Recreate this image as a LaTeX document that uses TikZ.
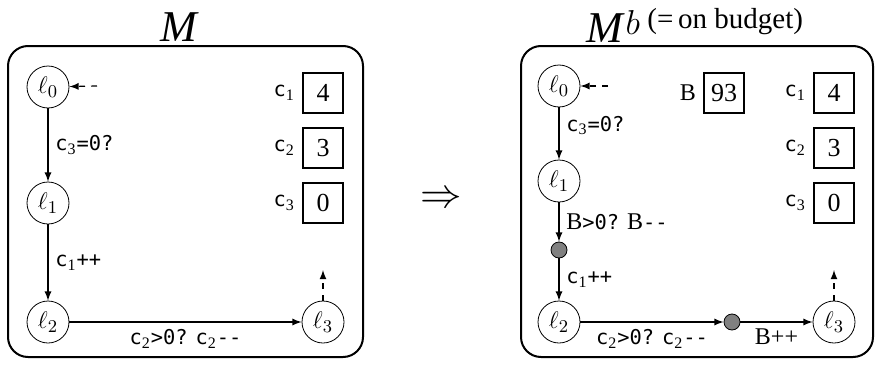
\documentclass[tikz,border=0pt]{standalone}
\usepackage{fontspec}
\setmainfont{Liberation Serif}
\setmonofont[Scale=0.85]{DejaVu Sans Mono}
\usepackage{amsmath}

\newcommand{\cname}[1]{\texttt{c}\textsubscript{#1}}

\begin{document}
\begin{tikzpicture}[x=0.5pt, y=-0.5pt,
                loc/.style={circle, draw, minimum size=21pt, inner sep=0pt, font=\fontsize{12.5}{14}\selectfont},
                inter/.style={circle, draw, fill=gray, minimum size=8pt, inner sep=0pt},
                counter/.style={rectangle, draw, line width=1pt, minimum size=20pt, inner sep=0pt, font=\fontsize{13}{15}\selectfont},
                panel/.style={draw, line width=1pt, rounded corners=10pt},
                guard/.style={font=\fontsize{12}{14}\selectfont},
                title/.style={font=\fontsize{22}{24}\selectfont},
                paths/.style={semithick, -latex},
                entry/.style={semithick, dashed, -latex}
            ]
                \useasboundingbox (0,0) rectangle (883,364);

                % Panel M
                \draw[panel] (8,46) rectangle (363,357);
                \node[title] (tl) at (180,27) {\textit{M}};

                \node[loc] (l0) at (48,87) {$\ell_0$};
                \node[loc] (l1) at (48,203) {$\ell_1$};
                \node[loc] (l2) at (48,322) {$\ell_2$};
                \node[loc] (l3) at (323,322) {$\ell_3$};
                \coordinate (i0) at (97,86);
                \coordinate (f3) at (323,270);

                \node[counter, label={[guard]left:\cname{1}}] (c1) at (323,93) {4};
                \node[counter, label={[guard]left:\cname{2}}] (c2) at (323,148) {3};
                \node[counter, label={[guard]left:\cname{3}}] (c3) at (323,203) {0};

                % Paths: Transitions of M
                \draw[entry] (i0) -- (l0);
                \draw[paths] (l0) -- node[guard, right] {\cname{3}\texttt{=0?}} (l1);
                \draw[paths] (l1) -- node[guard, right] {\cname{1}\texttt{++}} (l2);
                \draw[paths] (l2) -- node[guard, below] {\cname{2}\texttt{>0?} \cname{2}\texttt{--}} (l3);
                \draw[entry] (l3) -- (f3);

                % Arrow between panels
                \node (to) at (441,200) {\fontsize{22}{24}\selectfont$\Rightarrow$};

                % Panel M^b
                \draw[panel] (521,46) rectangle (873,357);
                \node[title] (tr) at (695,25) {\textit{M}\raisebox{4pt}{\fontsize{17}{19}\selectfont$b$}\,\raisebox{7pt}{\fontsize{14.5}{16}\selectfont(=\,on budget)}};

                \node[loc] (m0) at (559,86) {$\ell_0$};
                \node[loc] (m1) at (559,181) {$\ell_1$};
                \node[inter] (d1) at (559,250) {};
                \node[loc] (m2) at (559,322) {$\ell_2$};
                \node[inter] (d2) at (732,322) {};
                \node[loc] (m3) at (834,322) {$\ell_3$};
                \coordinate (j0) at (608,86);
                \coordinate (g3) at (834,270);

                \node[counter, label={[guard]left:B}] (bb) at (724,93) {93};
                \node[counter, label={[guard]left:\cname{1}}] (e1) at (834,93) {4};
                \node[counter, label={[guard]left:\cname{2}}] (e2) at (834,148) {3};
                \node[counter, label={[guard]left:\cname{3}}] (e3) at (834,203) {0};

                % Paths: Transitions of M^b
                \draw[entry] (j0) -- (m0);
                \draw[paths] (m0) -- node[guard, right, pos=0.35] {\cname{3}\texttt{=0?}} (m1);
                \draw[paths] (m1) -- node[guard, right] {B\texttt{>0?} B\texttt{--}} (d1);
                \draw[paths] (d1) -- node[guard, right] {\cname{1}\texttt{++}} (m2);
                \draw[paths] (m2) -- node[guard, below] {\cname{2}\texttt{>0?} \cname{2}\texttt{--}} (d2);
                \draw[paths] (d2) -- node[guard, below] {B++} (m3);
                \draw[entry] (m3) -- (g3);
            \end{tikzpicture}
\end{document}
